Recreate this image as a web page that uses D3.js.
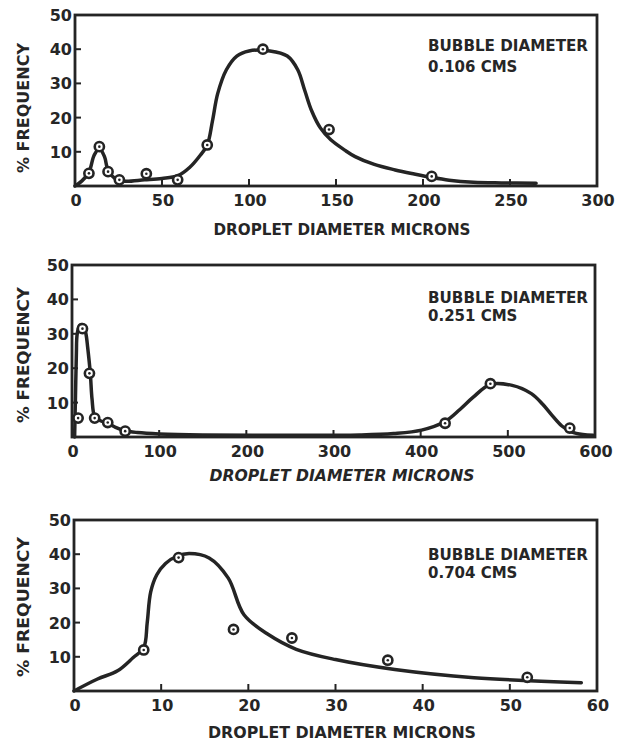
<!DOCTYPE html>
<html>
<head>
<meta charset="utf-8">
<script src="https://cdn.jsdelivr.net/npm/d3@7"></script>
<style>
  html, body { margin: 0; padding: 0; background: #fff; }
  svg { display: block; }
  text { font-family: "DejaVu Sans", sans-serif; font-weight: bold; fill: #262626; }
</style>
</head>
<body>
<svg id="chart" width="617" height="743"></svg>
<script>
// ---- data -------------------------------------------------------------
const yTicks = [0, 10, 20, 30, 40, 50];

// bubble diameter 0.106 cm
const xTicks106 = [0, 50, 100, 150, 200, 250, 300];
const pts106 = [[8, 3.7], [14, 11.5], [19, 4.2], [25.5, 1.8], [41, 3.6], [59, 1.8],
                [76, 12], [108, 40], [146, 16.5], [205, 2.8]];
const fit106 = [[0, 0], [4, 1.5], [8, 4], [11, 9], [14, 11], [17, 8.5], [19, 4.5], [23, 2.2],
                [28, 1.4], [40, 1.8], [50, 2.2], [59, 3], [66, 5.5], [72, 9], [76, 12], [79, 19],
                [82, 27], [87, 34], [93, 38], [100, 39.5], [112, 39.5], [122, 38], [128, 34],
                [132, 28], [136, 22], [141, 17], [147, 13.5], [155, 10.5], [161, 8.6], [172, 6.3],
                [184, 4.7], [195, 3.5], [205, 2.5], [215, 1.7], [229, 1.1], [245, 0.9], [265, 0.8]];

// bubble diameter 0.251 cm
const xTicks251 = [0, 100, 200, 300, 400, 500, 600];
const pts251 = [[7, 5.5], [12, 31.5], [20, 18.5], [26, 5.5], [41, 4.2], [61, 1.7],
                [428, 4], [480, 15.5], [571, 2.6]];
const fit251 = [[3, 0], [4, 12], [5, 24], [6, 30], [9, 32.5], [13, 32.5], [16, 30], [18, 26],
                [21, 18.5], [23, 11], [26, 6], [32, 4.8], [41, 4], [50, 2.8], [61, 1.8], [75, 1.3],
                [100, 0.9], [150, 0.6], [250, 0.5], [330, 0.6], [369, 1], [401, 2], [428, 4.5],
                [445, 8], [460, 11.5], [480, 15.3], [505, 15], [527, 12.6], [540, 9.5], [550, 6.5],
                [562, 3.2], [573, 1.5], [586, 0.7], [598, 0.5]];

// bubble diameter 0.704 cm
const xTicks704 = [0, 10, 20, 30, 40, 50, 60];
const pts704 = [[8, 12], [12, 39], [18.3, 18], [25, 15.5], [36, 9], [52, 4]];
const fit704 = [[0, 0], [2.7, 3.5], [5, 5.9], [6.8, 9.8], [8, 12.7], [8.4, 20], [8.8, 29],
                [9.5, 34], [10.5, 37.3], [11.8, 39.4], [13.2, 40.2], [15.5, 38.9], [17.7, 33],
                [19.5, 22.3], [22.3, 16.5], [25.5, 12.2], [30, 9.2], [36.8, 6.3], [45.9, 3.9],
                [58.2, 2.4]];

const legendTitle = "BUBBLE DIAMETER";
const bubbleLabels = ["0.106 CMS", "0.251 CMS", "0.704 CMS"];
const xTitle = "DROPLET DIAMETER MICRONS";
const yTitle = "% FREQUENCY";

// ---- layout -----------------------------------------------------------
const ink = "#242424";
const panels = [
  { xMax: 300, ticks: xTicks106, pts: pts106, fit: fit106, label: bubbleLabels[0],
    left: 75, right: 597, top: 15, bottom: 186,
    leg: [51, 72], titleY: 235, titleLen: 257, yTitleY: 108, yTitleLen: 130, italic: false },
  { xMax: 600, ticks: xTicks251, pts: pts251, fit: fit251, label: bubbleLabels[1],
    left: 72, right: 595, top: 265, bottom: 437,
    leg: [303, 321], titleY: 481, titleLen: 265, yTitleY: 355, yTitleLen: 136, italic: true },
  { xMax: 60, ticks: xTicks704, pts: pts704, fit: fit704, label: bubbleLabels[2],
    left: 74, right: 597, top: 520, bottom: 691,
    leg: [560, 578], titleY: 738, titleLen: 268, yTitleY: 607, yTitleLen: 140, italic: false }
];

const svg = d3.select("#chart");

panels.forEach(p => {
  const x = d3.scaleLinear().domain([0, p.xMax]).range([p.left, p.right]);
  const y = d3.scaleLinear().domain([0, 50]).range([p.bottom, p.top]);
  const g = svg.append("g");

  // frame
  g.append("rect")
    .attr("x", p.left).attr("y", p.top)
    .attr("width", p.right - p.left).attr("height", p.bottom - p.top)
    .attr("fill", "none").attr("stroke", ink).attr("stroke-width", 2.8);

  // inward x ticks and labels
  g.selectAll(".xtick").data(p.ticks.slice(1, -1)).join("line")
    .attr("x1", d => x(d)).attr("x2", d => x(d))
    .attr("y1", p.bottom).attr("y2", p.bottom - 7)
    .attr("stroke", ink).attr("stroke-width", 2);
  g.selectAll(".xlab").data(p.ticks).join("text")
    .attr("x", d => x(d) + 1).attr("y", p.bottom + 20)
    .attr("text-anchor", "middle").attr("font-size", 16)
    .text(d => d);

  // y ticks and labels
  g.selectAll(".ytick").data(yTicks.slice(1, -1)).join("line")
    .attr("x1", p.left).attr("x2", p.left + 6)
    .attr("y1", d => y(d)).attr("y2", d => y(d))
    .attr("stroke", ink).attr("stroke-width", 2);
  g.selectAll(".ylab").data(yTicks.slice(1)).join("text")
    .attr("x", p.left - 3).attr("y", d => y(d) + 6)
    .attr("text-anchor", "end").attr("font-size", 16)
    .text(d => d);

  // fitted curve
  const line = d3.line().x(d => x(d[0])).y(d => y(d[1])).curve(d3.curveCatmullRom.alpha(0.5));
  g.append("path").datum(p.fit)
    .attr("d", line)
    .attr("fill", "none").attr("stroke", ink).attr("stroke-width", 3.5)
    .attr("stroke-linejoin", "round").attr("stroke-linecap", "round");

  // measured points: ringed dots
  const m = g.selectAll(".pt").data(p.pts).join("g")
    .attr("transform", d => `translate(${x(d[0])},${y(d[1])})`);
  m.append("circle").attr("r", 4.6)
    .attr("fill", "#fff").attr("stroke", ink).attr("stroke-width", 2.6);
  m.append("circle").attr("r", 1.3).attr("fill", ink);

  // legend
  g.append("text").attr("x", 428).attr("y", p.leg[0]).attr("font-size", 15)
    .attr("textLength", 160).attr("lengthAdjust", "spacingAndGlyphs").text(legendTitle);
  g.append("text").attr("x", 428).attr("y", p.leg[1]).attr("font-size", 15)
    .text(p.label);

  // axis titles
  g.append("text").attr("x", 342).attr("y", p.titleY)
    .attr("text-anchor", "middle").attr("font-size", 15)
    .attr("font-style", p.italic ? "italic" : "normal")
    .attr("textLength", p.titleLen).attr("lengthAdjust", "spacingAndGlyphs")
    .text(xTitle);
  g.append("text")
    .attr("transform", `translate(29,${p.yTitleY}) rotate(-90)`)
    .attr("text-anchor", "middle").attr("font-size", 15)
    .attr("textLength", p.yTitleLen).attr("lengthAdjust", "spacingAndGlyphs")
    .text(yTitle);
});
</script>
</body>
</html>
